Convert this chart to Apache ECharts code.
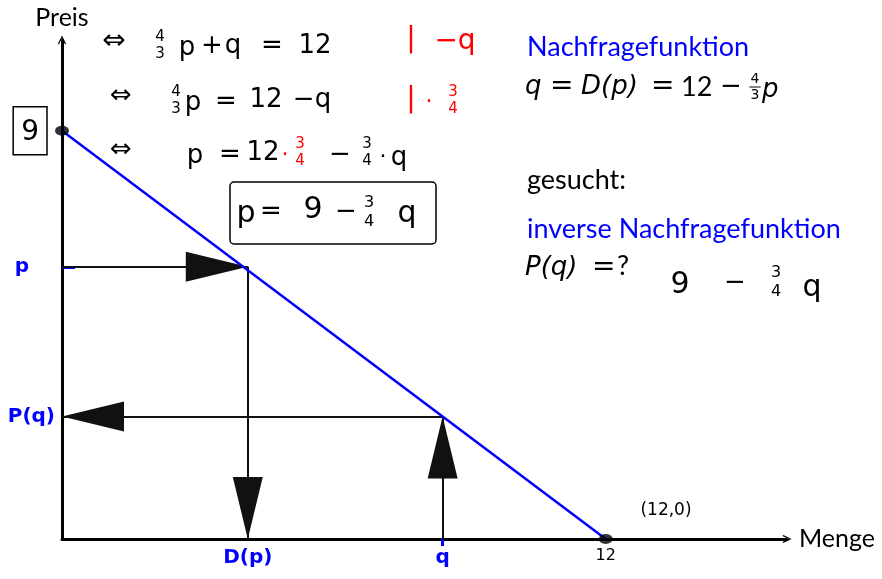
<!DOCTYPE html>
<html>
<head>
<meta charset="utf-8">
<script src="https://cdn.jsdelivr.net/npm/echarts@6/dist/echarts.min.js"></script>
<style>
  html, body { margin: 0; padding: 0; background: #fff; }
  #chart { width: 882px; height: 579px; }
</style>
</head>
<body>
<div id="chart"></div>
<script>
// Nachfragefunktion q = 12 - 4/3 p  <=>  p = 9 - 3/4 q
var demandQ = [0, 12];
var demandP = [9, 0];
var guideP = 6, guideDp = 4.1;    // p -> D(p)
var guideQ = 8.4, guidePq = 2.7;  // q -> P(q)
var yTickVals = [9, guideP, guidePq];
var yTickText = ['9', 'p', 'P(q)'];
var xTickVals = [guideDp, guideQ, 12];
var xTickText = ['D(p)', 'q', '12'];

var BLUE = '#0000ff', RED = '#ff0000';
var HAND = 'DejaVu Sans', TYPE = 'Lato', MATH = 'DejaVu Sans';
// offene Pfeilspitze fuer die Achsen
var axisArrow = 'path://M5,0 L10,10 L8.8,11 L5,3.2 L1.2,11 L0,10 Z';
// Dreieck, Spitze liegt genau auf dem Linienende
var bigArrow = 'path://M0,0 L15,62 L-15,62 Z M0,-62 L0.01,-62 L0,-61.99 Z';

var myChart = echarts.init(document.getElementById('chart'));

function hand(x, y, s, size, color) {
  return {
    type: 'text', x: x, y: y, z: 10,
    style: { text: s, fontFamily: HAND, fontSize: size || 26, fill: color || '#000',
      textAlign: 'center', textVerticalAlign: 'middle' }
  };
}
function frac(x, y, num, den, size, color, bar) {
  var els = [hand(x, y - size * 0.55, num, size, color), hand(x, y + size * 0.6, den, size, color)];
  if (bar) {
    els.push({ type: 'line', z: 10, shape: { x1: x - size * 0.4, y1: y, x2: x + size * 0.4, y2: y },
      style: { stroke: color || '#000', lineWidth: 1 } });
  }
  return els;
}
function tex(x, y, s, color, italic, family, size) {
  return {
    type: 'text', x: x, y: y, z: 10,
    style: { text: s, fontFamily: family || TYPE, fontSize: size || 27, fill: color || '#000',
      fontStyle: italic ? 'italic' : 'normal', textAlign: 'left', textVerticalAlign: 'middle' }
  };
}

var graphics = [].concat(
  // Umformung links oben
  [hand(114, 42, '⇔', 28), hand(187, 48, 'p'), hand(212, 46, '+'), hand(233, 46, 'q'),
   hand(272, 46, '='), hand(315, 46, '12'), hand(411, 40, '|', 28, RED), hand(455, 42, '−q', 28, RED)],
  frac(160, 45, '4', '3', 15),
  [hand(121, 96, '⇔', 26), hand(193, 103, 'p'), hand(226, 102, '='), hand(266, 100, '12'),
   hand(312, 100, '−q'), hand(411, 100, '|', 28, RED), hand(429, 102, '·', 22, RED)],
  frac(176, 100, '4', '3', 15),
  frac(453, 100, '3', '4', 15, RED),
  [hand(121, 150, '⇔', 26), hand(195, 156, 'p'), hand(230, 155, '='), hand(263, 153, '12'),
   hand(285, 155, '·', 22, RED), hand(340, 155, '−'), hand(383, 157, '·', 22), hand(399, 158, 'q')],
  frac(300, 152, '3', '4', 15, RED),
  frac(367, 152, '3', '4', 15),
  [{ type: 'rect', z: 10, shape: { x: 230, y: 182, width: 206, height: 62, r: 4 },
     style: { fill: 'none', stroke: '#000', lineWidth: 1.5 } },
   hand(246, 214, 'p', 30), hand(271, 212, '='), hand(313, 210, '9', 30), hand(346, 212, '−'),
   hand(407, 214, 'q', 30)],
  frac(369, 212, '3', '4', 16),
  [hand(666, 511, '(12,0)', 17)],
  // Text rechts
  [tex(527, 47, 'Nachfragefunktion', BLUE),
   tex(525, 87, 'q', '#000', true, MATH, 26), tex(550, 87, '=', '#000', false, MATH, 28),
   tex(581, 87, 'D(p)', '#000', true, MATH, 26),
   tex(651, 87, '=', '#000', false, MATH, 28), tex(681, 87, '12'), tex(720, 87, '−', '#000', false, MATH, 26),
   tex(762, 90, 'p', '#000', true, MATH, 26),
   tex(527, 180, 'gesucht:'),
   tex(527, 229, 'inverse Nachfragefunktion', BLUE),
   tex(525, 268, 'P(q)', '#000', true, MATH, 26), tex(592, 268, '=', '#000', false, MATH, 28),
   tex(617, 266, '?'),
   hand(680, 285, '9', 30), hand(735, 283, '−'), hand(812, 288, 'q', 30)],
  frac(755, 87, '4', '3', 14, '#000', true),
  frac(776, 282, '3', '4', 16)
);

var option = {
  animation: false,
  grid: { left: 62, right: 95, top: 40, bottom: 40 },
  xAxis: {
    type: 'value', min: 0, max: 16,
    name: 'Menge', nameLocation: 'end', nameGap: 12,
    nameTextStyle: { fontFamily: TYPE, fontSize: 25, color: '#000' },
    axisLine: { onZero: false, symbol: ['none', axisArrow], symbolSize: [11, 9],
      lineStyle: { color: '#000', width: 3 } },
    axisTick: { show: true, customValues: [guideQ], length: 7, lineStyle: { color: BLUE, width: 3 } },
    axisLabel: {
      customValues: xTickVals, margin: 9,
      formatter: function(v) {
        var i = xTickVals.indexOf(v);
        return i === 2 ? '{k|' + xTickText[i] + '}' : '{b|' + xTickText[i] + '}';
      },
      rich: {
        b: { fontFamily: HAND, fontSize: 20, fontWeight: 'bold', color: BLUE },
        k: { fontFamily: HAND, fontSize: 16, color: '#000' }
      }
    },
    splitLine: { show: false }
  },
  yAxis: {
    type: 'value', min: 0, max: 11,
    name: 'Preis', nameLocation: 'end', nameGap: 10,
    nameTextStyle: { fontFamily: TYPE, fontSize: 25, color: '#000' },
    axisLine: { onZero: false, symbol: ['none', axisArrow], symbolSize: [11, 9],
      lineStyle: { color: '#000', width: 3 } },
    axisTick: { show: true, customValues: [guideP], inside: true, length: 13,
      lineStyle: { color: BLUE, width: 3 } },
    axisLabel: {
      customValues: yTickVals, margin: 7,
      formatter: function(v) {
        var i = yTickVals.indexOf(v);
        if (i === 0) return '{nine|' + yTickText[0] + '}{g1| }';
        if (i === 1) return '{b|' + yTickText[1] + '}{g2| }';
        return '{b|' + yTickText[2] + '}';
      },
      rich: {
        nine: { fontFamily: HAND, fontSize: 28, color: '#000', borderColor: '#000', borderWidth: 1.5,
          padding: [12, 8, 8, 8] },
        b: { fontFamily: HAND, fontSize: 20, fontWeight: 'bold', color: BLUE },
        g1: { width: 8 },
        g2: { width: 26 }
      }
    },
    splitLine: { show: false }
  },
  series: [{
    name: 'Nachfrage',
    type: 'line',
    data: demandQ.map(function(q, i) { return [q, demandP[i]]; }),
    showSymbol: false,
    lineStyle: { color: BLUE, width: 2.5 },
    z: 3
  }, {
    name: 'Pfeile',
    type: 'lines',
    coordinateSystem: 'cartesian2d',
    symbol: ['none', bigArrow],
    symbolSize: [0, [30, 124]],
    lineStyle: { color: '#111', width: 2, opacity: 1 },
    data: [
      { coords: [[0, guideP], [guideDp, guideP]] },
      { coords: [[guideDp, guideP], [guideDp, 0]] },
      { coords: [[guideQ, 0], [guideQ, guidePq]] },
      { coords: [[guideQ, guidePq], [0, guidePq]] }
    ],
    z: 2
  }, {
    name: 'Punkte',
    type: 'scatter',
    data: demandQ.map(function(q, i) { return [q, demandP[i]]; }),
    symbol: 'circle',
    symbolSize: [14, 10],
    itemStyle: { color: '#000' },
    z: 4
  }],
  graphic: graphics
};

myChart.setOption(option);
</script>
</body>
</html>
